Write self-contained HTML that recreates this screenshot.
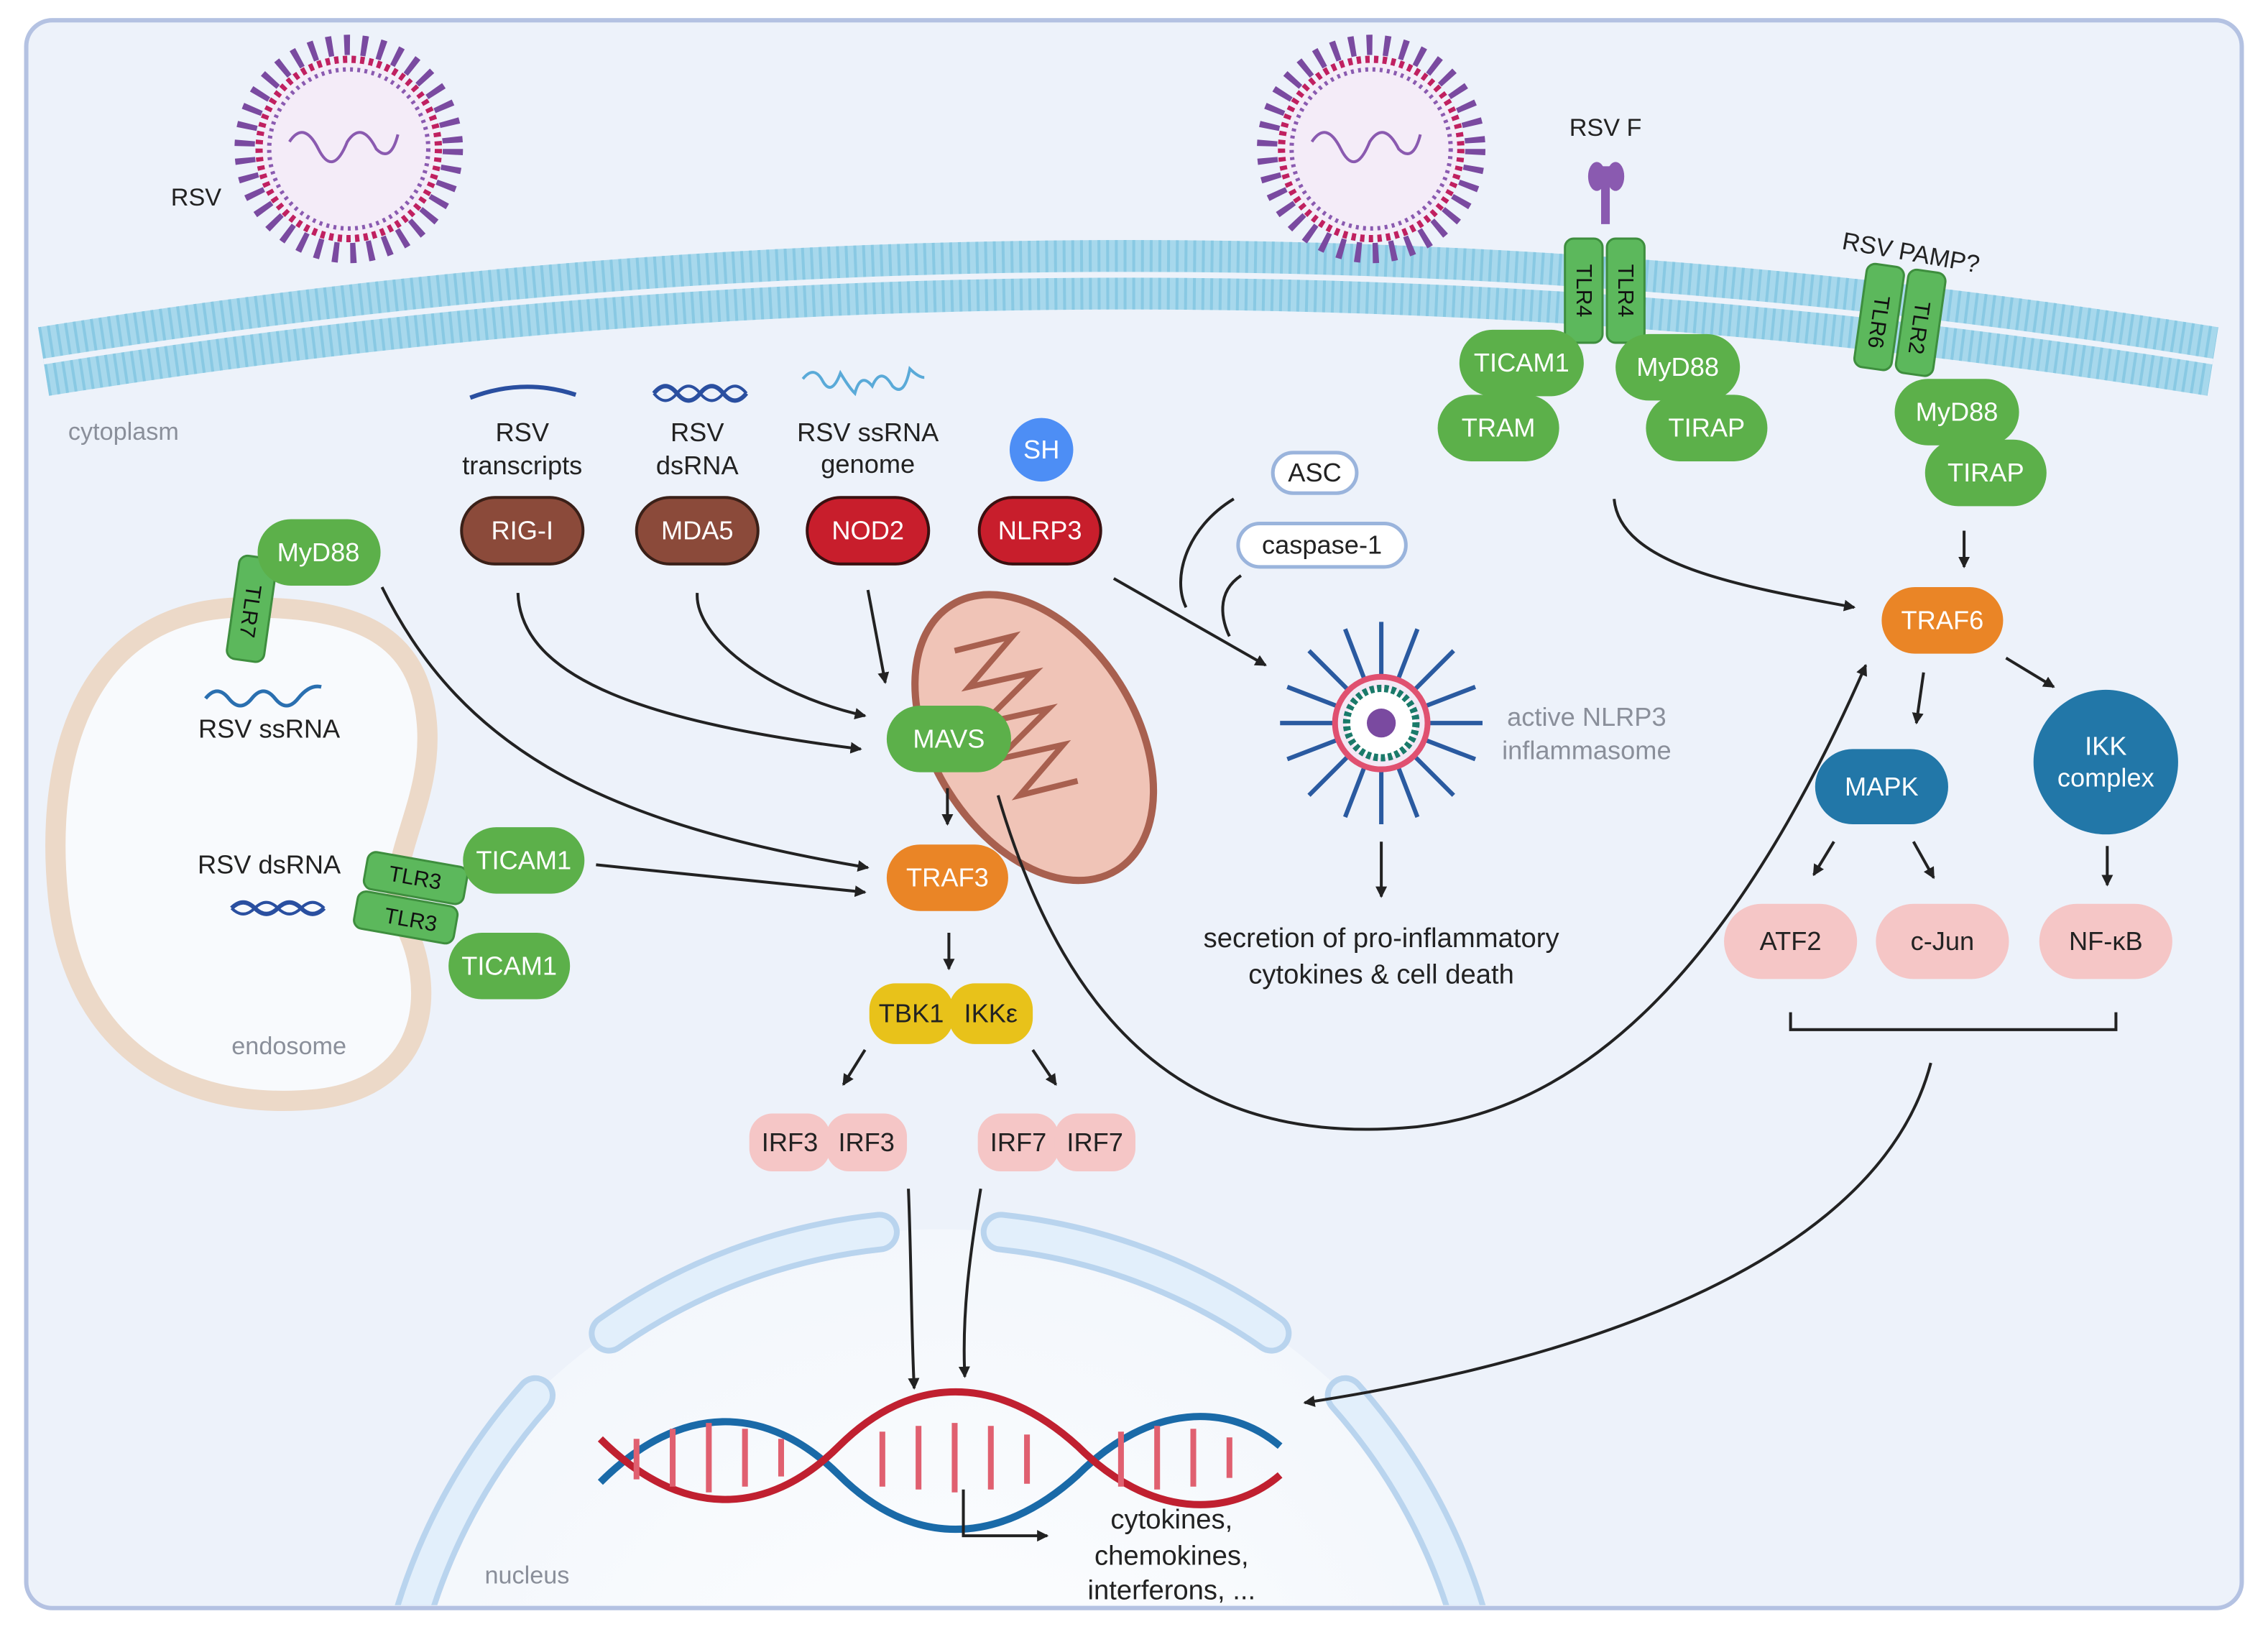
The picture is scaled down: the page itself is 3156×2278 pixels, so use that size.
<!DOCTYPE html>
<html><head><meta charset="utf-8"><style>
html,body{margin:0;padding:0;background:#fff;width:3156px;height:2278px;overflow:hidden;}
svg{display:block;font-family:"Liberation Sans",sans-serif;}
</style></head><body>
<svg width="3156" height="2278" viewBox="0 0 1568 1132" xmlns="http://www.w3.org/2000/svg">
<defs>
<marker id="ah" markerWidth="8" markerHeight="8" refX="7" refY="4" orient="auto" markerUnits="userSpaceOnUse"><path d="M0,0 L8,4 L0,8 Z" fill="#222"/></marker>
<radialGradient id="nuc" cx="0.5" cy="0.5" r="0.5"><stop offset="0" stop-color="#ffffff"/><stop offset="1" stop-color="#f3f7fc"/></radialGradient>
</defs>
<rect width="1568" height="1132" fill="#fff"/>
<rect x="18" y="14" width="1532" height="1098" rx="18" fill="#edf2fa" stroke="#b4c2e2" stroke-width="3"/>
<!-- membrane -->
<path d="M30,250 Q780,130 1530,250" fill="none" stroke="#a7d8ec" stroke-width="48"/>
<path d="M30,250 Q780,130 1530,250" fill="none" stroke="#7cc3df" stroke-width="48" stroke-dasharray="2 4" opacity="0.7"/>
<path d="M30,250 Q780,130 1530,250" fill="none" stroke="#edf2fa" stroke-width="4"/>
<text x="47" y="304" font-size="17" fill="#8a8f9a">cytoplasm</text>
<!-- nucleus -->
<clipPath id="cc"><rect x="18" y="14" width="1532" height="1096" rx="18"/></clipPath>
<g clip-path="url(#cc)">
<circle cx="650" cy="1250" r="400" fill="url(#nuc)"/>
<g fill="none" stroke-linecap="round">
<g stroke="#b9d4ee" stroke-width="28">
<path d="M421,922 A400,400 0 0 1 608,852"/>
<path d="M692,852 A400,400 0 0 1 879,922"/>
<path d="M370,965 A400,400 0 0 0 270,1200"/>
<path d="M930,965 A400,400 0 0 1 1030,1200"/>
</g>
<g stroke="#e2effb" stroke-width="20">
<path d="M421,922 A400,400 0 0 1 608,852"/>
<path d="M692,852 A400,400 0 0 1 879,922"/>
<path d="M370,965 A400,400 0 0 0 270,1200"/>
<path d="M930,965 A400,400 0 0 1 1030,1200"/>
</g>
</g>
</g>
<text x="335" y="1095" font-size="17" fill="#8a8f9a">nucleus</text>
<!-- endosome -->
<path d="M170,420 C60,420 30,520 40,620 C50,720 120,770 220,760 C300,750 300,680 280,640 C260,600 300,560 295,500 C290,440 250,420 170,420 Z" fill="#f8fafd" stroke="#ecd9c8" stroke-width="14"/>
<text x="160" y="729" font-size="17" fill="#8a8f9a">endosome</text>
<!-- mitochondrion -->
<ellipse cx="715" cy="510" rx="70" ry="108" transform="rotate(-32 715 510)" fill="#f0c4b7" stroke="#a8604f" stroke-width="5"/>
<path d="M660,450 l40,-10 l-30,35 l45,-10 l-35,35 l45,-10 l-35,35 l45,-10 l-30,35 l40,-10" fill="none" stroke="#a8604f" stroke-width="4"/>
<!-- viruses -->
<g>
<circle cx="241" cy="103" r="72" fill="none" stroke="#7a4aa0" stroke-width="14" stroke-dasharray="4 8"/>
<circle cx="241" cy="103" r="62" fill="#f4ecf8" stroke="#c02060" stroke-width="5" stroke-dasharray="3 3"/>
<circle cx="241" cy="103" r="55" fill="#f4ecf8" stroke="#8a5ab0" stroke-width="3" stroke-dasharray="2 3"/>
<path d="M200,98 q10,-15 20,5 q10,20 20,-5 q10,-15 20,5 q10,10 15,-10" fill="none" stroke="#8a5ab0" stroke-width="2"/>
<circle cx="948" cy="103" r="72" fill="none" stroke="#7a4aa0" stroke-width="14" stroke-dasharray="4 8"/>
<circle cx="948" cy="103" r="62" fill="#f4ecf8" stroke="#c02060" stroke-width="5" stroke-dasharray="3 3"/>
<circle cx="948" cy="103" r="55" fill="#f4ecf8" stroke="#8a5ab0" stroke-width="3" stroke-dasharray="2 3"/>
<path d="M907,98 q10,-15 20,5 q10,20 20,-5 q10,-15 20,5 q10,10 15,-10" fill="none" stroke="#8a5ab0" stroke-width="2"/>
</g>
<text x="118" y="142" font-size="17" fill="#222">RSV</text>
<text x="1085" y="94" font-size="17" fill="#222">RSV F</text>
<path d="M1110,115 v40" stroke="#8a5ab0" stroke-width="6"/>
<ellipse cx="1104" cy="122" rx="6" ry="10" fill="#8a5ab0"/><ellipse cx="1117" cy="122" rx="6" ry="10" fill="#8a5ab0"/>
<text x="1273" y="172" font-size="17" fill="#222" transform="rotate(10 1273 172)">RSV PAMP?</text>
<!-- receptors -->
<g fill="#5cb85c" stroke="#3e8e3e" stroke-width="1.5" font-size="15">
<rect x="1082" y="165" width="26" height="72" rx="6"/><rect x="1111" y="165" width="26" height="72" rx="6"/>
<g transform="rotate(8 1312 222)"><rect x="1286" y="185" width="26" height="72" rx="6"/><rect x="1315" y="185" width="26" height="72" rx="6"/></g>
<g transform="rotate(8 174 420)"><rect x="161" y="385" width="26" height="72" rx="6"/></g>
<g transform="rotate(10 285 620)"><rect x="250" y="594" width="70" height="26" rx="6"/><rect x="248" y="622" width="70" height="26" rx="6"/></g>
</g>
<g font-size="15" fill="#111" text-anchor="middle">
<text transform="translate(1090,201) rotate(90)">TLR4</text>
<text transform="translate(1119,201) rotate(90)">TLR4</text>
<text transform="translate(1294,222) rotate(98)">TLR6</text>
<text transform="translate(1322,226) rotate(98)">TLR2</text>
<text transform="translate(168,422) rotate(98)">TLR7</text>
<text transform="translate(286,612) rotate(10)">TLR3</text>
<text transform="translate(283,641) rotate(10)">TLR3</text>
</g>
<!-- RNA glyphs -->
<path d="M325,275 q37,-14 73,-2" fill="none" stroke="#2a4fa0" stroke-width="3"/>
<path d="M452,272 q8,-10 16,0 t16,0 t16,0 t16,0" fill="none" stroke="#2a4fa0" stroke-width="3"/>
<path d="M452,272 q8,10 16,0 t16,0 t16,0 t16,0" fill="none" stroke="#2a4fa0" stroke-width="2"/>
<path d="M555,262 q8,-10 14,2 q6,10 12,-6 q6,10 10,14 q4,-15 12,-5 q6,-14 14,0 q8,8 12,-12 q6,6 10,6" fill="none" stroke="#5aaad8" stroke-width="2"/>
<path d="M142,483 q8,-10 16,0 t16,0 t16,0 t16,0 t16,-8" fill="none" stroke="#2a6fb0" stroke-width="2.5"/>
<path d="M160,628 q8,-8 16,0 t16,0 t16,0 t16,0" fill="none" stroke="#2a4fa0" stroke-width="3"/>
<path d="M160,628 q8,8 16,0 t16,0 t16,0 t16,0" fill="none" stroke="#2a4fa0" stroke-width="2"/>
<!-- labels -->
<g font-size="18" fill="#222" text-anchor="middle">
<text x="361" y="305">RSV</text><text x="361" y="328">transcripts</text>
<text x="482" y="305">RSV</text><text x="482" y="328">dsRNA</text>
<text x="600" y="305">RSV ssRNA</text><text x="600" y="327">genome</text>
<text x="186" y="510">RSV ssRNA</text>
<text x="186" y="604">RSV dsRNA</text>
<text x="955" y="655" font-size="19">secretion of pro-inflammatory</text>
<text x="955" y="680" font-size="19">cytokines &amp; cell death</text>
<text x="810" y="1057" font-size="19">cytokines,</text>
<text x="810" y="1082" font-size="19">chemokines,</text>
<text x="810" y="1106" font-size="19">interferons, ...</text>
</g>
<g font-size="18" fill="#8a8f9a" text-anchor="middle"><text x="1097" y="502">active NLRP3</text><text x="1097" y="525">inflammasome</text></g>
<!-- inflammasome -->
<g stroke="#2a5aa0" stroke-width="3">
<path d="M955,500 m0,-70 v140 M955,500 m-70,0 h140 M955,500 m-50,-50 l100,100 M955,500 m50,-50 l-100,100 M955,500 m-25,-65 l50,130 M955,500 m25,-65 l-50,130 M955,500 m-65,-25 l130,50 M955,500 m-65,25 l130,-50"/>
</g>
<circle cx="955" cy="500" r="32" fill="#f3e8f5" stroke="#e05070" stroke-width="4"/>
<circle cx="955" cy="500" r="24" fill="#fff" stroke="#1a7a6a" stroke-width="5" stroke-dasharray="3 2"/>
<circle cx="955" cy="500" r="10" fill="#7a4aa0"/>
<!-- DNA -->
<g stroke-width="5">
<path d="M415,1025 C470,970 530,970 580,1020 C630,1070 690,1070 745,1020 C795,970 850,970 885,1000" fill="none" stroke="#1a6aa8"/>
<path d="M415,995 C470,1050 530,1050 580,1000 C630,950 690,950 745,1000 C795,1050 850,1050 885,1020" fill="none" stroke="#c02030"/>
<path d="M440,995 v28 M465,988 v40 M490,984 v48 M515,988 v40 M540,995 v26 M610,990 v38 M635,986 v44 M660,984 v48 M685,986 v44 M710,992 v34 M775,990 v38 M800,986 v44 M825,988 v40 M850,994 v28" stroke="#e06070" stroke-width="4"/>
</g>
<path d="M666,1030 v32 h58" fill="none" stroke="#222" stroke-width="2" marker-end="url(#ah)"/>
<!-- arrows -->
<g fill="none" stroke="#222" stroke-width="2" marker-end="url(#ah)">
<path d="M264,406 C320,520 420,570 600,600"/>
<path d="M358,410 C360,470 450,500 595,518"/>
<path d="M482,410 C480,440 530,480 598,495"/>
<path d="M600,408 L612,472"/>
<path d="M655,545 v25"/>
<path d="M412,598 L598,617"/>
<path d="M656,645 v25"/>
<path d="M598,726 L583,750"/>
<path d="M714,726 L730,750"/>
<path d="M628,822 C630,870 630,920 632,960"/>
<path d="M678,822 C670,870 665,910 667,952"/>
<path d="M770,400 L875,460"/>
<path d="M955,582 v38"/>
<path d="M690,550 C740,720 830,790 970,780 C1120,770 1220,620 1290,460"/>
<path d="M1116,345 C1120,390 1200,405 1282,420"/>
<path d="M1358,367 v25"/>
<path d="M1330,465 L1325,500"/>
<path d="M1387,455 L1420,475"/>
<path d="M1268,582 L1254,605"/>
<path d="M1323,582 L1337,607"/>
<path d="M1457,585 v27"/>
<path d="M1335,735 C1300,870 1100,940 902,970"/>
</g>
<g fill="none" stroke="#222" stroke-width="2">
<path d="M853,345 C820,365 810,400 820,420"/>
<path d="M858,398 C840,410 845,430 850,440"/>
<path d="M1238,700 v12 h225 v-12"/>
</g>
<!-- nodes -->
<g font-size="18" text-anchor="middle" fill="#fff">
<g fill="#5cb04a">
<rect x="178" y="359" width="85" height="46" rx="23"/>
<rect x="613" y="488" width="86" height="46" rx="23"/>
<rect x="320" y="572" width="84" height="46" rx="23"/>
<rect x="310" y="645" width="84" height="46" rx="23"/>
<rect x="1009" y="228" width="86" height="46" rx="23"/>
<rect x="994" y="273" width="84" height="46" rx="23"/>
<rect x="1117" y="231" width="86" height="46" rx="23"/>
<rect x="1138" y="273" width="84" height="46" rx="23"/>
<rect x="1310" y="262" width="86" height="46" rx="23"/>
<rect x="1331" y="304" width="84" height="46" rx="23"/>
</g>
<g fill="#8b4a3a" stroke="#3a2018" stroke-width="2"><rect x="319" y="344" width="84" height="46" rx="23"/><rect x="440" y="344" width="84" height="46" rx="23"/></g>
<g fill="#c81e2c" stroke="#3a1010" stroke-width="2"><rect x="558" y="344" width="84" height="46" rx="23"/><rect x="677" y="344" width="84" height="46" rx="23"/></g>
<circle cx="720" cy="311" r="22" fill="#4d8ef5"/>
<g fill="#ea8526"><rect x="613" y="584" width="84" height="46" rx="23"/><rect x="1301" y="406" width="84" height="46" rx="23"/></g>
<g fill="#e8c21a"><rect x="601" y="680" width="58" height="42" rx="18"/><rect x="656" y="680" width="58" height="42" rx="18"/></g>
<g fill="#f5c6c6"><rect x="518" y="770" width="56" height="40" rx="16"/><rect x="571" y="770" width="56" height="40" rx="16"/><rect x="676" y="770" width="56" height="40" rx="16"/><rect x="729" y="770" width="56" height="40" rx="16"/>
<rect x="1192" y="625" width="92" height="52" rx="26"/><rect x="1297" y="625" width="92" height="52" rx="26"/><rect x="1410" y="625" width="92" height="52" rx="26"/></g>
<rect x="1255" y="518" width="92" height="52" rx="26" fill="#2277a8"/>
<circle cx="1456" cy="527" r="50" fill="#2277a8"/>
<g fill="#fff" stroke="#9ab4dc" stroke-width="2.5"><rect x="880" y="313" width="58" height="28" rx="14"/><rect x="856" y="362" width="116" height="30" rx="15"/></g>
<text x="220" y="388">MyD88</text>
<text x="656" y="517">MAVS</text>
<text x="362" y="601">TICAM1</text>
<text x="352" y="674">TICAM1</text>
<text x="1052" y="257">TICAM1</text>
<text x="1036" y="302">TRAM</text>
<text x="1160" y="260">MyD88</text>
<text x="1180" y="302">TIRAP</text>
<text x="1353" y="291">MyD88</text>
<text x="1373" y="333">TIRAP</text>
<text x="361" y="373">RIG-I</text>
<text x="482" y="373">MDA5</text>
<text x="600" y="373">NOD2</text>
<text x="719" y="373">NLRP3</text>
<text x="720" y="317">SH</text>
<text x="655" y="613">TRAF3</text>
<text x="1343" y="435">TRAF6</text>
<text x="1301" y="550">MAPK</text>
<text x="1456" y="522">IKK</text><text x="1456" y="544">complex</text>
<g fill="#222">
<text x="630" y="707">TBK1</text><text x="685" y="707">IKKε</text>
<text x="546" y="796">IRF3</text><text x="599" y="796">IRF3</text><text x="704" y="796">IRF7</text><text x="757" y="796">IRF7</text>
<text x="1238" y="657">ATF2</text><text x="1343" y="657">c-Jun</text><text x="1456" y="657">NF-κB</text>
<text x="909" y="333">ASC</text><text x="914" y="383">caspase-1</text>
</g>
</g>
</svg>
</body></html>
